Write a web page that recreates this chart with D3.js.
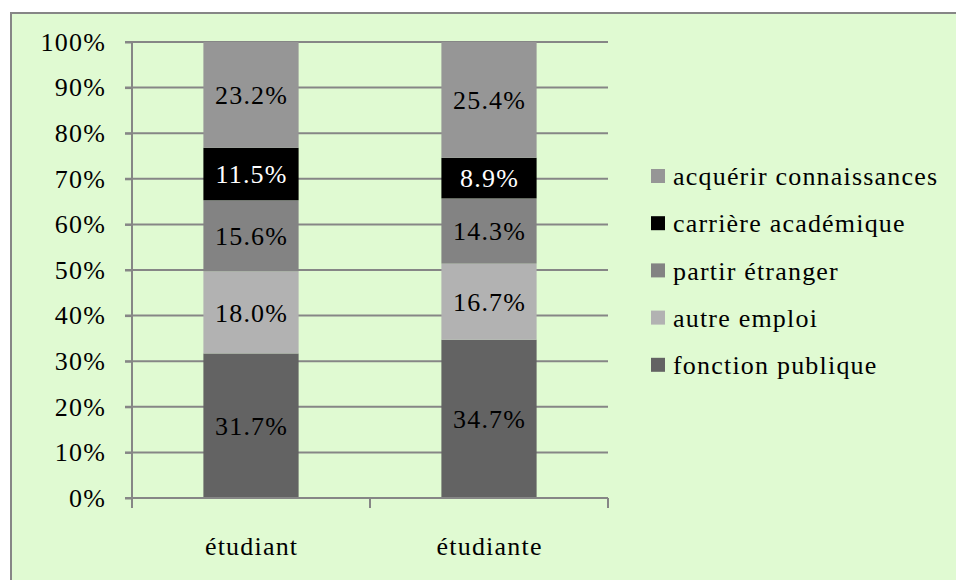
<!DOCTYPE html>
<meta charset="utf-8">
<head>
  <title>Stacked bars</title>
</head>
<body style="margin:0">
<script src="https://cdn.jsdelivr.net/npm/d3@7"></script>
<script>
// data
var categories = ["étudiant", "étudiante"];
var seriesNames = ["fonction publique", "autre emploi", "partir étranger", "carrière académique", "acquérir connaissances"];
var fonctionPublique = [31.7, 34.7];
var autreEmploi = [18.0, 16.7];
var partirEtranger = [15.6, 14.3];
var carriereAcademique = [11.5, 8.9];
var acquerirConnaissances = [23.2, 25.4];
var colors = ["#636363", "#b2b2b2", "#838383", "#000000", "#969696"];
var labelColors = ["#000", "#000", "#000", "#fff", "#000"];
var yTicks = [0, 10, 20, 30, 40, 50, 60, 70, 80, 90, 100];

var seriesValues = [fonctionPublique, autreEmploi, partirEtranger, carriereAcademique, acquerirConnaissances];

var FONT = "'Liberation Serif', 'Times New Roman', serif";
var GREY = "#868686";

var W = 956, H = 580;
var margin = {top: 42, left: 132, bottom: 82, right: 348};
var width = W - margin.left - margin.right,
    height = H - margin.top - margin.bottom;

function serif(sel) {
  return sel.style("font-family", FONT)
    .style("font-size", "26px")
    .style("letter-spacing", "1.2px");
}

var svg = d3.select("body").append("svg")
    .attr("width", W)
    .attr("height", H)
    .style("display", "block");

// chart area background + border
svg.append("rect")
    .attr("x", 11).attr("y", 13)
    .attr("width", W + 10).attr("height", H + 10)
    .attr("fill", "#e0fad2")
    .attr("stroke", GREY)
    .attr("stroke-width", 2);

var g = svg.append("g")
    .attr("transform", "translate(" + margin.left + "," + margin.top + ")");

var x = d3.scaleBand().domain(categories).range([0, width]).paddingInner(0.6).paddingOuter(0.3);
var y = d3.scaleLinear().domain([0, 100]).range([height, 0]);

// rows for stack
var rows = categories.map(function(c, i) {
  var r = {cat: c};
  seriesNames.forEach(function(s, j) { r[s] = seriesValues[j][i]; });
  return r;
});
var stacked = d3.stack().keys(seriesNames)(rows);

// gridlines
g.append("g")
  .selectAll("line").data(yTicks).enter().append("line")
    .attr("x1", -7).attr("x2", width)
    .attr("y1", function(d) { return y(d); })
    .attr("y2", function(d) { return y(d); })
    .attr("stroke", GREY).attr("stroke-width", 2);

// bars
var layer = g.selectAll(".layer").data(stacked).enter().append("g")
    .attr("class", "layer")
    .attr("fill", function(d, i) { return colors[i]; });

layer.selectAll("rect").data(function(d) { return d; }).enter().append("rect")
    .attr("x", function(d) { return x(d.data.cat); })
    .attr("width", x.bandwidth())
    .attr("y", function(d) { return y(d[1]); })
    .attr("height", function(d) { return y(d[0]) - y(d[1]); });

layer.each(function(s, i) {
  d3.select(this).selectAll("text").data(s).enter().append("text")
    .attr("x", function(d) { return x(d.data.cat) + x.bandwidth() / 2 + 0.6; })
    .attr("y", function(d) { return (y(d[0]) + y(d[1])) / 2; })
    .attr("dy", "0.35em")
    .attr("text-anchor", "middle")
    .call(serif)
    .style("fill", labelColors[i])
    .text(function(d) { return (d[1] - d[0]).toFixed(1) + "%"; });
});

// y axis
var yAxis = g.append("g")
    .call(d3.axisLeft(y).tickValues(yTicks).tickSize(7).tickPadding(19)
      .tickFormat(function(d) { return d + "%"; }));
yAxis.select(".domain").attr("d", "M0," + height + "V0")
    .attr("stroke", GREY).attr("stroke-width", 2);
yAxis.selectAll(".tick line").attr("stroke", GREY).attr("stroke-width", 2);
yAxis.selectAll(".tick text").call(serif).attr("fill", "#000");

// x axis
var xAxis = g.append("g")
    .attr("transform", "translate(0," + height + ")");
xAxis.append("line").attr("x1", 0).attr("x2", width)
    .attr("stroke", GREY).attr("stroke-width", 2);
xAxis.selectAll(".tk").data([0, width / 2, width]).enter().append("line")
    .attr("x1", function(d) { return d; }).attr("x2", function(d) { return d; })
    .attr("y1", 0).attr("y2", 10)
    .attr("stroke", GREY).attr("stroke-width", 2);
xAxis.selectAll(".cat").data(categories).enter().append("text")
    .attr("x", function(d) { return x(d) + x.bandwidth() / 2 + 0.6; })
    .attr("y", 48)
    .attr("dy", "0.35em")
    .attr("text-anchor", "middle")
    .call(serif)
    .text(function(d) { return d; });

// legend (top entry is the top stack segment)
var legendItems = seriesNames.slice().reverse();
var legend = svg.append("g")
    .attr("transform", "translate(651,176)");
var li = legend.selectAll("g").data(legendItems).enter().append("g")
    .attr("transform", function(d, i) { return "translate(0," + (i * 47.2) + ")"; });
li.append("rect")
    .attr("x", 0).attr("y", -7).attr("width", 14).attr("height", 14)
    .attr("fill", function(d) { return colors[seriesNames.indexOf(d)]; });
li.append("text")
    .attr("x", 22).attr("dy", "0.35em")
    .call(serif)
    .text(function(d) { return d; });
</script>
</body>
